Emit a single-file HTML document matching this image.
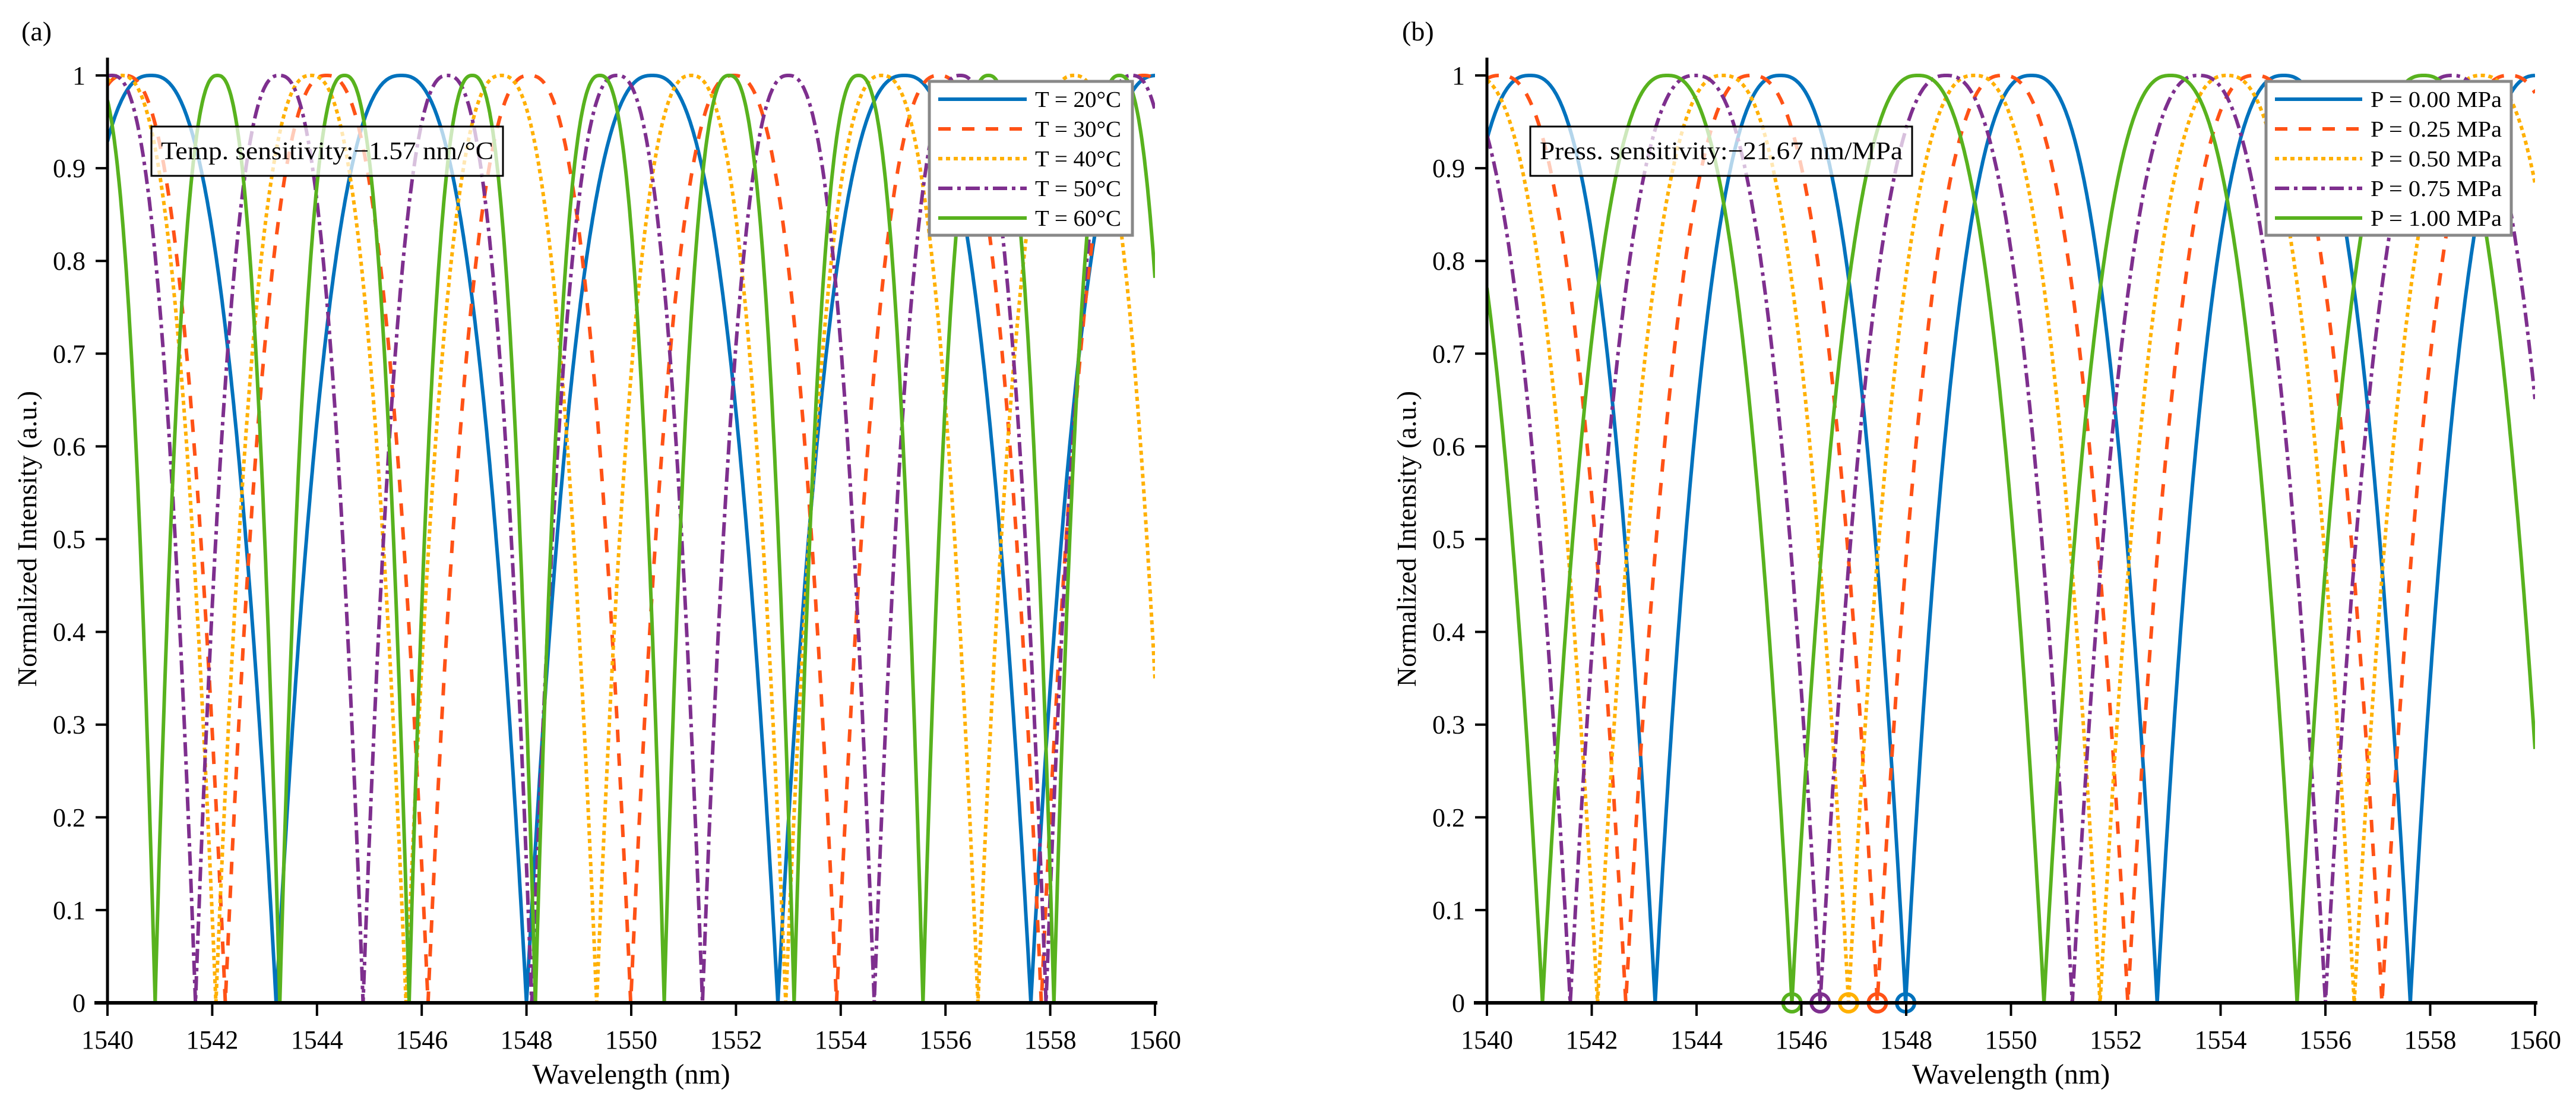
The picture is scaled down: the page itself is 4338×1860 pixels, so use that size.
<!DOCTYPE html>
<html><head><meta charset="utf-8"><style>
html,body{margin:0;padding:0;background:#fff;}
svg{display:block;font-family:"Liberation Serif",serif;}
</style></head><body>
<svg id="chart" width="4338" height="1860" viewBox="0 0 4338 1860" xmlns="http://www.w3.org/2000/svg"></svg>
<script>
// ---------- data ----------
const xTicks = [1540,1542,1544,1546,1548,1550,1552,1554,1556,1558,1560];
const yTicks = [0,0.1,0.2,0.3,0.4,0.5,0.6,0.7,0.8,0.9,1];
const yTickLabels = ["0","0.1","0.2","0.3","0.4","0.5","0.6","0.7","0.8","0.9","1"];
const tempLabels = ["T = 20°C","T = 30°C","T = 40°C","T = 50°C","T = 60°C"];
const pressLabels = ["P = 0.00 MPa","P = 0.25 MPa","P = 0.50 MPa","P = 0.75 MPa","P = 1.00 MPa"];
// dip (minimum) wavelengths per series (nm)
const tempDips20 = [1543.22,1548.00,1552.80,1557.63];
const tempDips30 = [1542.25,1546.12,1549.99,1553.92,1557.83];
const tempDips40 = [1542.07,1545.70,1549.34,1552.95,1556.62];
const tempDips50 = [1541.68,1544.88,1548.10,1551.36,1554.64,1557.92];
const tempDips60 = [1540.91,1543.29,1545.76,1548.17,1550.63,1553.11,1555.57,1558.07];
const pressDips000 = [1543.21,1547.99,1552.79,1557.62];
const pressDips025 = [1542.65,1547.45,1552.23,1557.08];
const pressDips050 = [1542.11,1546.90,1551.70,1556.55];
const pressDips075 = [1541.59,1546.36,1551.17,1556.00];
const pressDips100 = [1541.06,1545.82,1550.63,1555.46];
const trackedDips = [1545.82,1546.36,1546.90,1547.45,1547.99];
const tempText = "Temp. sensitivity:\u22121.57 nm/°C";
const pressText = "Press. sensitivity:\u221221.67 nm/MPa";

// ---------- styles ----------
const colors = ["#0072BD","#FF5216","#FFB000","#7E2F8E","#58B21E"];
const dashes = ["", "21 19", "7 6", "24 8 6 8", ""];
const markerOrder = [4,3,2,1,0];

const NS = "http://www.w3.org/2000/svg";
const svg = document.getElementById("chart");
function mk(tag, attrs, parent){
  const e = document.createElementNS(NS, tag);
  for (const k in attrs) e.setAttribute(k, attrs[k]);
  (parent||svg).appendChild(e);
  return e;
}

function intensity(dips, lam){
  const n = dips.length;
  const p0 = dips[1]-dips[0], pn = dips[n-1]-dips[n-2];
  const ext = [dips[0]-2*p0, dips[0]-p0].concat(dips, [dips[n-1]+pn, dips[n-1]+2*pn]);
  for (let i=0;i<ext.length-1;i++){
    if (lam>=ext[i] && lam<ext[i+1]){
      const half=(ext[i+1]-ext[i])/2, mid=ext[i]+half;
      const u=Math.min(1,Math.abs(lam-mid)/half);
      return 1-Math.pow(u,2.5);
    }
  }
  return 1;
}

function panel(opts){
  const g = mk("g",{});
  
  
  const x0=opts.x0, x1=opts.x1, yTop=127, yBot=1688;
  const xs = v => x0 + (v-1540)/20*(x1-x0);
  const ys = v => yBot - v*(yBot-yTop);

  const cid = opts.name+"-clip";
  const defs = mk("defs",{},g);
  const cp = mk("clipPath",{id:cid},defs);
  mk("rect",{x:x0,y:yTop-10,width:x1-x0,height:yBot-yTop+10},cp);

  const sg = mk("g",{"clip-path":"url(#"+cid+")"},g);
  opts.series.forEach((dips,si)=>{
    let d="";
    for (let k=0;k<=2000;k++){
      const lam=1540+k*0.01;
      const v=intensity(dips,lam);
      d += (k?"L":"M")+xs(lam).toFixed(1)+","+ys(v).toFixed(1);
    }
    const p = mk("path",{d:d,fill:"none",stroke:colors[si],"stroke-width":6,"stroke-dasharray":dashes[si]||"none","stroke-linejoin":"round"},sg);
    
    
  });

  if (opts.markers){
    opts.markers.forEach((m,i)=>{
      const c = mk("circle",{cx:xs(m),cy:yBot,r:15,fill:"none",stroke:colors[markerOrder[i]],"stroke-width":6},g);
      
      
    });
  }

  const ya = mk("line",{x1:x0,y1:97,x2:x0,y2:yBot+2,stroke:"#000","stroke-width":5},g);
  
  
  const xa = mk("line",{x1:x0-22,y1:yBot,x2:x1+4,y2:yBot,stroke:"#000","stroke-width":6},g);
  
  
  xTicks.forEach(t=>{
    mk("line",{x1:xs(t),y1:yBot,x2:xs(t),y2:yBot+22,stroke:"#000","stroke-width":4},g);
    const tx = mk("text",{x:xs(t),y:1765,"font-size":44,"text-anchor":"middle"},g);
    tx.textContent=t;
    
    
  });
  yTicks.forEach((t,i)=>{
    mk("line",{x1:x0-20,y1:ys(t),x2:x0,y2:ys(t),stroke:"#000","stroke-width":4},g);
    const tx = mk("text",{x:x0-37,y:ys(t)+15,"font-size":44,"text-anchor":"end"},g);
    tx.textContent=yTickLabels[i];
    
    
  });
  const xl = mk("text",{x:(x0+x1)/2,y:1824,"font-size":48,"text-anchor":"middle"},g);
  xl.textContent="Wavelength (nm)";
  
  
  const yl = mk("text",{x:0,y:0,"font-size":46,"text-anchor":"middle",transform:"translate("+(x0-120)+",907) rotate(-90)"},g);
  yl.textContent="Normalized Intensity (a.u.)";
  
  
  const pl = mk("text",{x:opts.labelX,y:68,"font-size":46},g);
  pl.textContent=opts.label;
  
  

  const ab = opts.annot;
  const ag = mk("g",{},g);
  
  
  mk("rect",{x:ab.x,y:213,width:ab.w,height:83,fill:"#fff","fill-opacity":0.7,stroke:"#000","stroke-width":3},ag);
  const at = mk("text",{x:ab.x+16,y:268,"font-size":42,textLength:ab.w-32,lengthAdjust:"spacingAndGlyphs"},ag);
  at.textContent=ab.text;

  const L = opts.legend;
  const lg = mk("g",{},g);
  
  
  mk("rect",{x:L.x,y:137,width:L.w,height:259,fill:"#fff",stroke:"#888","stroke-width":5},lg);
  opts.labels.forEach((lab,i)=>{
    const ry = 167+i*50;
    const eg = mk("g",{},lg);
    
    
    mk("line",{x1:L.lx1,y1:ry,x2:L.lx2,y2:ry,stroke:colors[i],"stroke-width":6,"stroke-dasharray":dashes[i]||"none"},eg);
    const t = mk("text",{x:L.tx,y:ry+13,"font-size":38,textLength:L.tw,lengthAdjust:"spacingAndGlyphs"},eg);
    t.textContent=lab;
  });
}

panel({name:"panel-a",x0:181,x1:1945,label:"(a)",labelX:36,
  series:[tempDips20,tempDips30,tempDips40,tempDips50,tempDips60],
  labels:tempLabels,
  annot:{x:255,w:592,text:tempText},
  legend:{x:1565,w:342,lx1:1580,lx2:1729,tx:1743,tw:145}});
panel({name:"panel-b",x0:2504,x1:4269,label:"(b)",labelX:2361,
  series:[pressDips000,pressDips025,pressDips050,pressDips075,pressDips100],
  labels:pressLabels,markers:trackedDips,
  annot:{x:2577,w:643,text:pressText},
  legend:{x:3816,w:413,lx1:3831,lx2:3978,tx:3992,tw:221}});
</script>
</body></html>
